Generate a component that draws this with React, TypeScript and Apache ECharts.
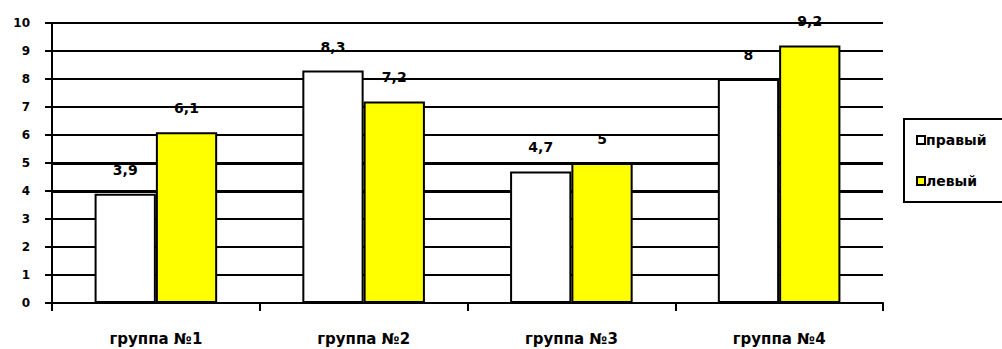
import React, { useEffect, useRef } from "react";
import * as echarts from "echarts";

const categories = ["группа №1", "группа №2", "группа №3", "группа №4"];
const rightValues = [3.9, 8.3, 4.7, 8];
const leftValues = [6.1, 7.2, 5, 9.2];
const seriesNames = ["правый", "левый"];
const thickLines = [4, 5];

const FONT = "DejaVu Sans";

export default function App() {
  const ref = useRef<HTMLDivElement>(null);
  useEffect(() => {
    if (!ref.current) return;
    const chart = echarts.init(ref.current, undefined, { renderer: "svg" });
    const labelFmt = (p: any) => String(p.value).replace(".", ",");
    chart.setOption({
      animation: false,
      backgroundColor: "#ffffff",
      grid: { left: 52, right: 119, top: 23, bottom: 46, containLabel: false, outerBoundsMode: "none" },
      legend: {
        orient: "vertical",
        left: 904,
        top: 119,
        padding: [14, 60, 14, 12],
        itemGap: 27,
        itemWidth: 8,
        itemHeight: 8,
        borderColor: "#000",
        borderWidth: 2,
        borderRadius: 0,
        icon: "rect",
        textStyle: { fontFamily: FONT, fontWeight: "bold", fontSize: 14, color: "#000", padding: [0, 0, 0, -4] },
        data: seriesNames,
      },
      xAxis: {
        type: "category",
        data: categories,
        axisLine: { lineStyle: { color: "#000", width: 2 } },
        axisTick: { show: true, length: 8, lineStyle: { color: "#000", width: 2 } },
        axisLabel: { fontFamily: FONT, fontWeight: "bold", fontSize: 15, color: "#000", margin: 27, lineHeight: 17 },
      },
      yAxis: {
        type: "value",
        min: 0,
        max: 10,
        interval: 1,
        axisLine: { show: true, lineStyle: { color: "#000", width: 2 } },
        axisTick: { show: true, length: 7, lineStyle: { color: "#000", width: 2 } },
        axisLabel: { fontFamily: FONT, fontWeight: "bold", fontSize: 12, color: "#000", margin: 22 },
        splitLine: { show: true, lineStyle: { color: "#000", width: 2 } },
      },
      series: [
        {
          name: seriesNames[0],
          type: "bar",
          data: rightValues,
          barGap: "0%",
          barCategoryGap: "41%",
          itemStyle: { color: "#ffffff", borderColor: "#000", borderWidth: 2 },
          label: {
            show: true,
            position: "top",
            distance: 17,
            formatter: labelFmt,
            fontFamily: FONT,
            fontWeight: "bold",
            fontSize: 14,
            color: "#000",
          },
          z: 3,
        },
        {
          name: seriesNames[1],
          type: "bar",
          data: leftValues,
          barGap: "0%",
          barCategoryGap: "41%",
          itemStyle: { color: "#ffff00", borderColor: "#000", borderWidth: 2 },
          label: {
            show: true,
            position: "top",
            distance: 17,
            formatter: labelFmt,
            fontFamily: FONT,
            fontWeight: "bold",
            fontSize: 14,
            color: "#000",
          },
          z: 3,
        },
        {
          name: "lines",
          type: "line",
          data: [],
          z: 1,
          markLine: {
            silent: true,
            symbol: "none",
            z: 1,
            label: { show: false },
            lineStyle: { color: "#000", width: 3, type: "solid" },
            data: thickLines.map((v) => ({ yAxis: v })),
          },
        },
      ],
    });
    return () => chart.dispose();
  }, []);
  return <div ref={ref} style={{ width: 1002, height: 349, position: "absolute", left: 0, top: 0 }} />;
}
